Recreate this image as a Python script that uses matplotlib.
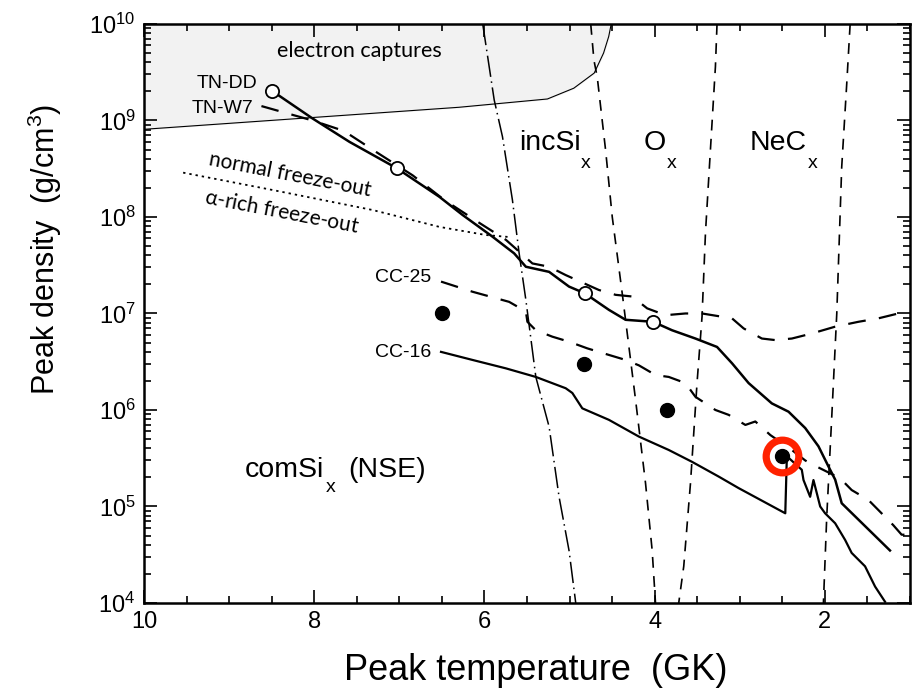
import matplotlib
matplotlib.use("Agg")
import matplotlib.pyplot as plt
from matplotlib.ticker import MultipleLocator, LogLocator, NullFormatter

plt.rcParams['font.family'] = ['Liberation Sans', 'DejaVu Sans']
plt.rcParams['mathtext.default'] = 'regular'

# electron-capture region (upper boundary)
ecap_T = [10.0, 6.30, 5.26, 4.95, 4.71, 4.60, 4.54, 4.51]
ecap_rho = [8.1e8, 1.37e9, 1.67e9, 2.16e9, 3.1e9, 5.0e9, 7.4e9, 1.0e10]

# TN-DD model (solid) and its marked zones
tndd_T = [8.50, 8.02, 7.585, 7.03, 6.53, 6.257, 5.905, 5.651, 5.513, 5.24, 5.006, 4.822,
          4.537, 4.341, 4.018, 3.795, 3.521, 3.267, 3.091, 2.896, 2.623, 2.427, 2.231,
          2.075, 1.958, 1.879, 1.802, 1.235]
tndd_rho = [2.04e9, 1.05e9, 6.0e8, 3.2e8, 1.62e8, 1.05e8, 6.25e7, 4.2e7, 3.05e7, 2.7e7,
            1.9e7, 1.62e7, 1.09e7, 8.6e6, 8.2e6, 6.7e6, 5.5e6, 4.5e6, 3.05e6, 1.9e6,
            1.17e6, 9.6e5, 6.5e5, 4.2e5, 2.6e5, 1.9e5, 1.08e5, 3.5e4]
tndd_open_T = [8.5, 7.03, 4.82, 4.02]
tndd_open_rho = [2.04e9, 3.2e8, 1.62e7, 8.2e6]

# TN-W7 model (long dashes)
tnw7_T = [8.62, 8.02, 7.652, 7.253, 6.843, 6.471, 6.061, 5.748, 5.436, 5.24, 5.045, 4.654,
          4.458, 4.264, 4.088, 3.872, 3.638, 3.443, 3.091, 2.954, 2.740, 2.583, 2.388,
          2.154, 1.879, 1.606, 1.372, 1.04]
tnw7_rho = [1.41e9, 1.0e9, 7.8e8, 4.6e8, 2.7e8, 1.5e8, 8.7e7, 5.8e7, 3.3e7, 3.05e7, 2.5e7,
            1.75e7, 1.56e7, 1.5e7, 1.13e7, 9.6e6, 1.0e7, 1.0e7, 8.9e6, 7.0e6, 5.5e6, 5.3e6,
            5.5e6, 6.2e6, 7.3e6, 8.2e6, 8.9e6, 1.05e7]

# CC-25 model (long dashes)
cc25_T = [6.51, 6.14, 5.71, 5.513, 5.495, 5.396, 5.202, 5.006, 4.791, 4.615, 4.341, 4.185,
          3.989, 3.834, 3.638, 3.521, 3.286, 3.130, 2.934, 2.817, 2.641, 2.388, 2.231,
          2.173, 1.821, 1.685, 1.489, 1.372, 1.196, 1.098, 1.0]
cc25_rho = [2.14e7, 1.68e7, 1.32e7, 1.05e7, 8.2e6, 6.7e6, 5.75e6, 5.1e6, 4.35e6, 3.9e6,
            3.3e6, 2.9e6, 2.3e6, 2.2e6, 1.9e6, 1.37e6, 1.0e6, 8.9e5, 7.0e5, 7.6e5, 5.5e5,
            3.85e5, 3.0e5, 2.8e5, 1.96e5, 1.48e5, 1.17e5, 9.2e4, 6.4e4, 5.1e4, 5.1e4]

# CC-16 model (solid)
cc16_T = [6.51, 6.14, 5.748, 5.396, 5.045, 4.967, 4.850, 4.537, 4.185, 3.834, 3.560, 3.247,
          3.013, 2.465, 2.447, 2.427, 2.271, 2.251, 2.173, 2.134, 2.055, 1.997, 1.879,
          1.762, 1.685, 1.528, 1.410, 1.293]
cc16_rho = [4.0e6, 3.3e6, 2.7e6, 2.2e6, 1.68e6, 1.5e6, 1.04e6, 7.9e5, 5.3e5, 3.85e5, 2.9e5,
            2.04e5, 1.55e5, 8.5e4, 3.2e5, 3.2e5, 2.4e5, 1.88e5, 1.26e5, 1.88e5, 1.0e5,
            8.5e4, 6.7e4, 4.5e4, 3.3e4, 2.4e4, 1.48e4, 1.03e4]

# other models (filled circles); the last one is highlighted
pts_T = [6.5, 4.83, 3.85, 2.5]
pts_rho = [1.0e7, 3.0e6, 1.0e6, 3.3e5]

# burning-regime boundaries
comsi_T = [6.02, 5.885, 5.788, 5.671, 5.592, 5.513, 5.396, 5.24, 5.123, 5.006, 4.927]
comsi_rho = [1.0e10, 1.63e9, 6.8e8, 1.5e8, 4.2e7, 1.38e7, 2.2e6, 6.7e5, 1.26e5, 3.5e4, 1.0e4]
incsi_T = [4.751, 4.713, 4.674, 4.576, 4.498, 4.381, 4.224, 4.107, 4.029, 3.99]
incsi_rho = [1.0e10, 4.2e9, 2.8e9, 4.9e8, 1.0e8, 1.62e7, 1.27e6, 1.74e5, 3.5e4, 1.0e4]
ox_T = [3.267, 3.286, 3.345, 3.403, 3.443, 3.502, 3.579, 3.658, 3.717]
ox_rho = [1.0e10, 3.6e9, 4.9e8, 6.8e7, 9.3e6, 1.9e6, 1.74e5, 2.4e4, 1.0e4]
nec_T = [1.703, 1.743, 1.802, 1.860, 1.919, 1.978, 2.017]
nec_rho = [1.0e10, 2.4e9, 3.3e8, 1.0e7, 8.5e5, 7.8e4, 1.0e4]

# normal / alpha-rich freeze-out divide
freeze_T = [9.54, 8.484, 7.312, 6.53, 5.982, 5.709]
freeze_rho = [2.88e8, 1.9e8, 1.18e8, 7.9e7, 6.5e7, 6.2e7]


def main():
    fig = plt.figure(figsize=(9.2, 6.95), dpi=100)
    ax = fig.add_axes([0.1565, 0.1324, 0.8326, 0.8331])

    ax.fill_between(ecap_T, ecap_rho, 1e10, color='#f2f2f2', zorder=0)
    ax.plot(ecap_T, ecap_rho, color='black', lw=0.8, zorder=1)

    ax.plot(comsi_T, comsi_rho, color='black', lw=1.1, ls=(0, (14, 3, 1, 3)))
    for T, rho in [(incsi_T, incsi_rho), (ox_T, ox_rho), (nec_T, nec_rho)]:
        ax.plot(T, rho, color='black', lw=1.2, ls=(0, (6.5, 5)))
    ax.plot(freeze_T, freeze_rho, color='black', lw=1.3, ls=(0, (1.3, 2.2)))

    ax.plot(tnw7_T, tnw7_rho, color='black', lw=1.6, ls=(0, (8, 6)))
    ax.plot(cc25_T, cc25_rho, color='black', lw=1.6, ls=(0, (8, 6)))
    ax.plot(tndd_T, tndd_rho, color='black', lw=1.8, zorder=3)
    ax.plot(cc16_T, cc16_rho, color='black', lw=1.6, zorder=3)

    ax.plot(tndd_open_T, tndd_open_rho, 'o', ms=9.5, mfc='white', mec='black', mew=1.3, zorder=4)
    ax.plot(pts_T, pts_rho, 'o', ms=10, color='black', zorder=4)
    ax.plot(pts_T[-1], pts_rho[-1], 'o', ms=23.5, mfc='none', mec='#ff2200', mew=5.2, zorder=5)

    ax.set_yscale('log')
    ax.set_xlim(10, 1.0)
    ax.set_ylim(1e4, 1e10)

    ax.xaxis.set_major_locator(MultipleLocator(2))
    ax.xaxis.set_minor_locator(MultipleLocator(0.5))
    ax.yaxis.set_major_locator(LogLocator(base=10, numticks=20))
    ax.yaxis.set_minor_locator(LogLocator(base=10, subs=range(2, 10), numticks=20))
    ax.yaxis.set_minor_formatter(NullFormatter())

    ax.tick_params(which='both', direction='in', top=True, right=True, width=1.2)
    ax.tick_params(which='major', length=9.5, labelsize=17, pad=6)
    ax.tick_params(which='minor', length=5)
    for sp in ax.spines.values():
        sp.set_linewidth(1.8)

    ax.set_xlabel('Peak temperature  (GK)', fontsize=26, va='baseline')
    ax.xaxis.set_label_coords(0.511, -0.133)
    ax.set_ylabel(r'Peak density  (g/cm$^{3}$)', fontsize=22)
    ax.yaxis.set_label_coords(-0.104, 0.61)

    # region and model labels
    calib = ['Lato', 'DejaVu Sans']
    ax.text(7.468, 4.6e9, 'electron captures', fontsize=15.5, family=calib, ha='center', va='baseline')
    ax.text(9.246, 3.46e8, 'normal freeze-out', fontsize=15, family=calib, rotation=-11,
            rotation_mode='anchor', ha='left', va='baseline')
    ax.text(9.305, 1.41e8, r'$\alpha$-rich freeze-out', fontsize=15, family=calib, rotation=-11,
            rotation_mode='anchor', ha='left', va='baseline')

    ax.text(8.664, 2.16e9, 'TN-DD', fontsize=14, ha='right', va='baseline')
    ax.text(8.719, 1.19e9, 'TN-W7', fontsize=14, ha='right', va='baseline')
    ax.text(6.627, 2.14e7, 'CC-25', fontsize=14, ha='right', va='baseline')
    ax.text(6.627, 3.56e6, 'CC-16', fontsize=14, ha='right', va='baseline')

    ax.text(5.23, 4.94e8, 'incSi', fontsize=20.5, ha='center', va='baseline')
    ax.text(4.81, 3.2e8, 'x', fontsize=14, ha='center', va='baseline')
    ax.text(4.0, 4.94e8, 'O', fontsize=20.5, ha='center', va='baseline')
    ax.text(3.80, 3.2e8, 'x', fontsize=14, ha='center', va='baseline')
    ax.text(2.544, 4.94e8, 'NeC', fontsize=20.5, ha='center', va='baseline')
    ax.text(2.145, 3.2e8, 'x', fontsize=14, ha='center', va='baseline')
    ax.text(8.347, 2.04e5, 'comSi', fontsize=20.5, ha='center', va='baseline')
    ax.text(7.81, 1.42e5, 'x', fontsize=14, ha='center', va='baseline')
    ax.text(7.145, 2.04e5, '(NSE)', fontsize=20.5, ha='center', va='baseline')

    fig.savefig('out.png', dpi=100)
    plt.close(fig)


if __name__ == "__main__":
    main()
